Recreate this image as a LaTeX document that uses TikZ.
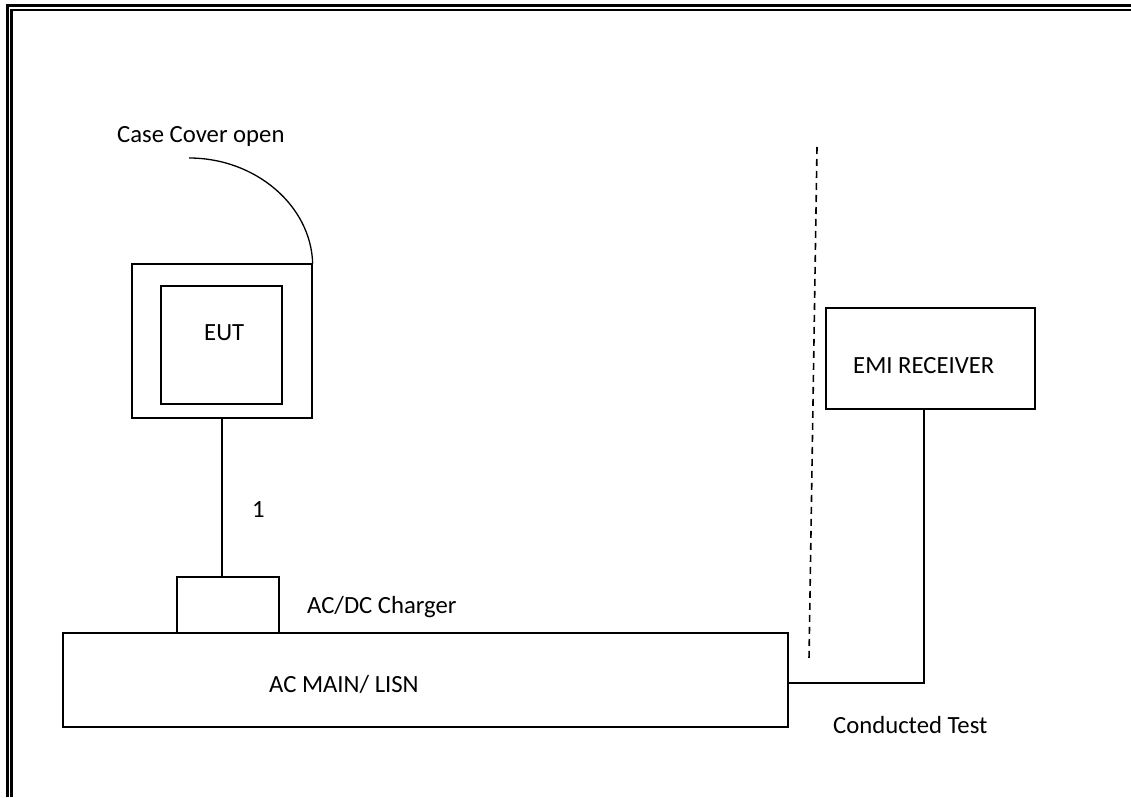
\documentclass[tikz,border=0pt]{standalone}
\usepackage{fontspec}
\setmainfont{Carlito}
\begin{document}
\begin{tikzpicture}[x=1pt,y=-1pt,
  box/.style={draw,line width=1.3pt,inner sep=0pt,minimum width=#1},
  lbl/.style={anchor=base west,inner sep=0pt,font=\fontsize{24.7}{30}\selectfont},
  wire/.style={line width=1.3pt},
  frameline/.style={line width=2.3pt}]
\useasboundingbox (0,0) rectangle (1131,797);
% page frame
\draw[frameline] (7.5,797) -- (7.5,5.5) -- (1131,5.5);
\draw[frameline] (11.5,797) -- (11.5,10) -- (1131,10);
% boxes
\node[box=180pt,minimum height=154pt] (case) at (222,341) {};
\node[box=121pt,minimum height=118pt] (eut) at (221.5,345) {};
\node[box=102pt,minimum height=56pt] (chg) at (228,605) {};
\node[box=725pt,minimum height=94pt] (lisn) at (425.5,680) {};
\node[box=209pt,minimum height=101pt] (rcv) at (930.5,358.5) {};
% labels
\node[lbl] (tcase) at (117,142) {Case Cover open};
\node[lbl] (teut) at (204,340) {EUT};
\node[lbl] (tone) at (252,517) {1};
\node[lbl] (tchg) at (307,613) {AC/DC Charger};
\node[lbl] (tlisn) at (269,692) {AC MAIN/ LISN};
\node[lbl] (trcv) at (853,373) {EMI RECEIVER};
\node[lbl] (tcond) at (833,733) {Conducted Test};
% cover arc
\coordinate (a1) at (189,158);
\draw[wire] (a1) .. controls (256,158) and (311,206) .. (case.north east);
% cable 1
\draw[wire] (case.south) -- (case.south |- chg.north);
% dashed separator
\coordinate (d1) at (817,147);
\coordinate (d2) at (809,659);
\draw[wire,line width=1.6pt,dash pattern=on 7pt off 5pt] (d1) -- (d2);
% receiver to LISN
\coordinate (k) at (924,683);
\draw[wire] (k |- rcv.south) -- (k) -- (lisn.east |- k);
\end{tikzpicture}
\end{document}
